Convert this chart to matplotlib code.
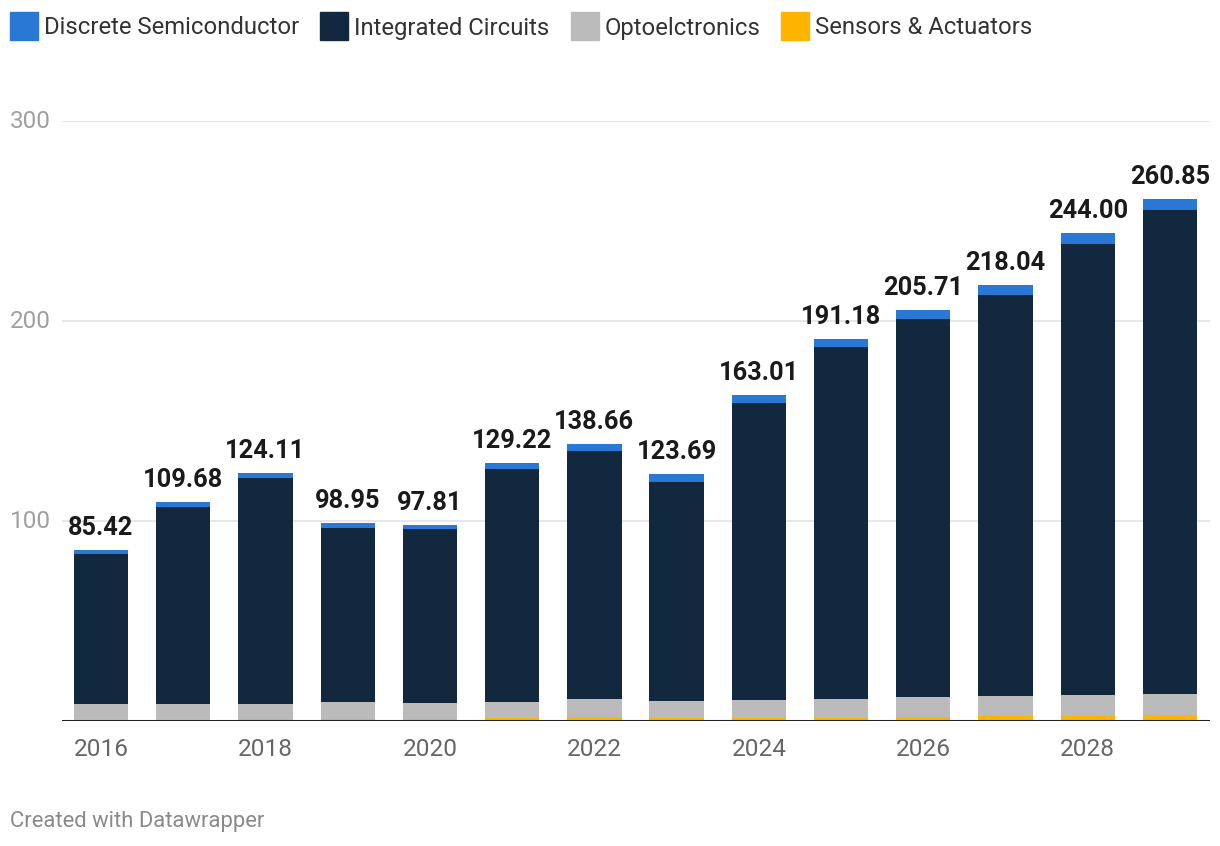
import numpy as np
import matplotlib.pyplot as plt

plt.rcParams['font.family'] = ['Roboto', 'DejaVu Sans']

years = np.arange(2016, 2030)
totals = [85.42, 109.68, 124.11, 98.95, 97.81, 129.22, 138.66, 123.69,
          163.01, 191.18, 205.71, 218.04, 244.00, 260.85]
sensors = [0.6, 0.7, 0.9, 0.9, 0.9, 1.5, 1.8, 1.5, 1.5, 1.5, 1.8, 2.5, 2.5, 3.0]
opto = [7.9, 7.8, 7.6, 8.6, 8.1, 8.0, 9.2, 8.5, 9.0, 9.5, 10.2, 10.0, 10.5, 10.5]
discrete = [2.0, 2.7, 2.5, 2.5, 2.0, 3.0, 3.5, 4.0, 4.0, 4.0, 4.5, 5.0, 5.5, 5.5]
ic = [t - s - o - d for t, s, o, d in zip(totals, sensors, opto, discrete)]

c_disc = '#2a78d6'
c_ic = '#12283f'
c_opto = '#bbbbbb'
c_sens = '#ffb400'

fig = plt.figure(figsize=(12.2, 8.46), dpi=100)
ax = fig.add_axes([62 / 1220, 125 / 846, 1148 / 1220, 600 / 846])

w = 0.66
bottom = np.zeros(len(years))
for vals, col in [(sensors, c_sens), (opto, c_opto), (ic, c_ic), (discrete, c_disc)]:
    ax.bar(years, vals, width=w, bottom=bottom, color=col, linewidth=0, zorder=3)
    bottom += np.array(vals)

for x, t in zip(years, totals):
    ax.text(x, t + 5, f"{t:.2f}", ha='center', va='bottom', fontsize=18.3,
            fontweight='bold', color='#1a1a1a', zorder=4)

ax.set_xlim(2015.526, 2029.486)
ax.set_ylim(0, 300)
for s in ax.spines.values():
    s.set_visible(False)
ax.set_yticks([])
for v in [100, 200, 300]:
    ax.axhline(v, color='#e3e3e3', linewidth=1.2, zorder=1)
    ax.text(-52 / 1148, v, str(v), transform=ax.get_yaxis_transform(),
            ha='left', va='center', fontsize=17.5, color='#a0a0a0')
ax.axhline(0, color='#222222', linewidth=2.2, zorder=5)

ax.set_xticks(years[::2])
ax.set_xticklabels([str(y) for y in years[::2]], fontsize=17.6, color='#666666')
ax.tick_params(axis='x', length=0, pad=12)

# legend
items = [("Discrete Semiconductor", c_disc), ("Integrated Circuits", c_ic),
         ("Optoelctronics", c_opto), ("Sensors & Actuators", c_sens)]
xs = [10, 320, 571, 781]
for (lab, col), x0 in zip(items, xs):
    fig.patches.append(plt.Rectangle((x0 / 1220, 1 - 40 / 846), 28 / 1220, 28 / 846,
                                     transform=fig.transFigure, color=col))
    fig.text((x0 + 34) / 1220, 1 - 28 / 846, lab, ha='left', va='center',
             fontsize=17.2, color='#333333')

fig.text(10 / 1220, 1 - 821 / 846, "Created with Datawrapper", ha='left', va='center',
         fontsize=15.8, color='#8a8a8a')

fig.savefig('out.png', dpi=100)
